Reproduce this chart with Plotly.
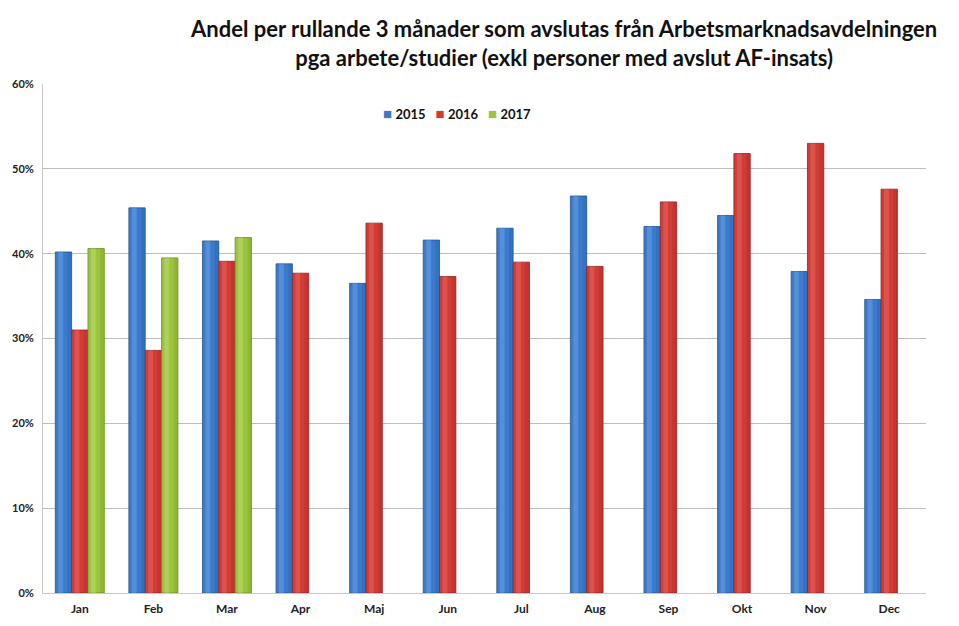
import plotly.graph_objects as go

months = ["Jan", "Feb", "Mar", "Apr", "Maj", "Jun", "Jul", "Aug", "Sep", "Okt", "Nov", "Dec"]
v2015 = [0.402, 0.454, 0.415, 0.388, 0.365, 0.416, 0.430, 0.468, 0.432, 0.445, 0.379, 0.346]
v2016 = [0.310, 0.286, 0.391, 0.377, 0.436, 0.373, 0.390, 0.385, 0.461, 0.518, 0.530, 0.476]
v2017 = [0.406, 0.395, 0.419, None, None, None, None, None, None, None, None, None]
years = ["2015", "2016", "2017"]

colors = {
    "2015": ("#3c7bcc", "#6ea8ea", "#25558f"),
    "2016": ("#d03c37", "#ee6c64", "#922320"),
    "2017": ("#9cc43f", "#c2e07a", "#6c8c25"),
}
series = [("2015", v2015), ("2016", v2016), ("2017", v2017)]

W = 0.222
offsets = [-0.333, -0.111, 0.111]

fig = go.Figure()
for (name, vals), off in zip(series, offsets):
    base, light, dark = colors[name]
    fig.add_trace(go.Bar(
        x=months, y=vals, name=name, offset=off, width=W,
        marker=dict(color=base, line=dict(color=dark, width=0.8)),
        showlegend=False,
    ))
    fig.add_trace(go.Bar(
        x=months, y=vals, name=name, offset=off + W * 0.18, width=W * 0.3,
        marker=dict(color=light, opacity=0.45, line=dict(width=0)),
        showlegend=False, hoverinfo="skip",
    ))
    fig.add_trace(go.Bar(
        x=months, y=vals, name=name, offset=off + W * 0.75, width=W * 0.25,
        marker=dict(color=dark, opacity=0.25, line=dict(width=0)),
        showlegend=False, hoverinfo="skip",
    ))

# legend drawn as a single text line with coloured squares
legend_text = "&nbsp;&nbsp;&nbsp;".join(
    f"<span style='color:{colors[y][0]};font-size:15px'>■</span>&nbsp;<b>{y}</b>" for y in years
)
fig.add_annotation(
    text=legend_text, xref="paper", yref="paper",
    x=0.469, y=0.943, xanchor="center", yanchor="middle", showarrow=False,
    font=dict(size=13, color="#111111", family="Lato, Arial, sans-serif"),
)

fig.add_annotation(
    text="<b>Andel per rullande 3 månader som avslutas från Arbetsmarknadsavdelningen<br>pga arbete/studier (exkl personer med avslut AF-insats)</b>",
    xref="paper", yref="paper", x=0.589, y=1.14, xanchor="center", yanchor="top",
    showarrow=False, align="center",
    font=dict(size=22, color="#111111", family="Lato, Arial, sans-serif"),
)

fig.update_layout(
    width=959, height=626,
    barmode="overlay",
    plot_bgcolor="white", paper_bgcolor="white",
    margin=dict(l=43, r=33, t=84, b=33),
    font=dict(family="Lato, Arial, sans-serif", color="#1a1a1a"),
    showlegend=False,
)
fig.update_yaxes(
    range=[0, 0.6], dtick=0.1, tickformat=".0%",
    showgrid=True, gridcolor="#bdbdbd", gridwidth=1,
    showline=True, linecolor="#c8c8c8", linewidth=1,
    tickfont=dict(size=11, color="#222222", family="Lato, Arial, sans-serif"),
    ticks="", ticklabelstandoff=6, zeroline=False, automargin=False,
    tickprefix="<b>", ticksuffix="</b>",
)
fig.update_xaxes(
    showline=True, linecolor="#c8c8c8", linewidth=1,
    tickfont=dict(size=12, color="#222222", family="Lato, Arial, sans-serif"),
    ticks="", showgrid=False, ticklabelstandoff=5, automargin=False,
    tickprefix="<b>", ticksuffix="</b>",
)

fig.write_html("out.html", config={"displayModeBar": False},
               post_script="document.body.style.margin='0';")
